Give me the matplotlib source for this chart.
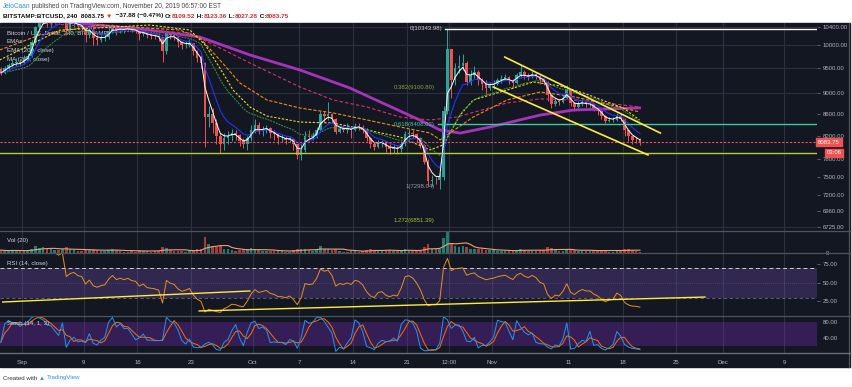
import numpy as np
import pandas as pd
import matplotlib
matplotlib.use('Agg')
import matplotlib.pyplot as plt
from matplotlib.ticker import NullLocator, FixedLocator, FixedFormatter
import matplotlib.transforms as mtransforms

W, H = 853, 387
FONT = ['Liberation Sans', 'DejaVu Sans']
BG = '#131722'
GRID = '#2c3040'
SEP = '#4a4e5a'
TXT = '#b2b5be'
UP = '#26a69a'
DOWN = '#ef5350'

# ---- data: 12h candles from 29 Aug 2019 00:00 (day 0 = 1 Sep) ----
first_open = 9480
closes = [9400, 9500, 9560, 9600, 9620, 9600, 9700, 9760,
          10050, 10380, 10500, 10620, 10520, 10560, 10600, 10570,
          10800, 10320, 10450, 10500, 10420, 10400, 10200, 10320,
          10150, 10100, 10140, 10160, 10300, 10410, 10320, 10360,
          10330, 10360, 10320, 10310, 10230, 10260, 10200, 10190,
          10180, 10160, 9850, 10270, 10200, 10170, 10050, 9980,
          10000, 10030, 9850, 9700, 9600, 8530, 8600, 8430,
          8200, 8060, 8150, 8190, 8250, 8210, 8100, 8050,
          8150, 8300, 8400, 8300, 8320, 8340, 8250, 8220,
          8150, 8150, 8120, 8140, 8050, 7860, 7950, 8200,
          8180, 8190, 8300, 8590, 8550, 8590, 8500, 8260,
          8320, 8300, 8330, 8300, 8380, 8360, 8300, 8160,
          8050, 8000, 8070, 8080, 8000, 7960, 7980, 7960,
          8050, 8230, 8250, 8220, 8150, 8030, 7750, 7430,
          7450, 7440, 7500, 8660, 9900, 9250, 9500, 9550,
          9600, 9220, 9350, 9420, 9250, 9180, 9100, 9150,
          9180, 9250, 9280, 9310, 9250, 9200, 9350, 9410,
          9350, 9320, 9380, 9340, 9250, 9220, 8950, 8790,
          8850, 8820, 8900, 9050, 8800, 8720, 8780, 8820,
          8780, 8780, 8700, 8650, 8550, 8460, 8480, 8490,
          8560, 8510, 8300, 8190, 8130, 8120, 8083.75]
highs = [9520, 9550, 9600, 9680, 9700, 9680, 9780, 9820,
         10100, 10420, 10600, 10790, 10700, 10640, 10680, 10640,
         10920, 10820, 10520, 10580, 10560, 10480, 10420, 10400,
         10380, 10200, 10220, 10250, 10380, 10450, 10440, 10420,
         10400, 10420, 10390, 10360, 10340, 10320, 10280, 10240,
         10250, 10230, 10170, 10330, 10300, 10250, 10180, 10080,
         10080, 10120, 10040, 9880, 9780, 9620, 8750, 8700,
         8500, 8250, 8250, 8280, 8320, 8300, 8230, 8150,
         8200, 8400, 8500, 8450, 8380, 8400, 8350, 8300,
         8250, 8220, 8200, 8190, 8160, 8060, 8050, 8280,
         8300, 8260, 8350, 8650, 8650, 8820, 8620, 8520,
         8380, 8400, 8420, 8380, 8420, 8420, 8400, 8330,
         8180, 8080, 8120, 8130, 8110, 8050, 8050, 8020,
         8100, 8290, 8320, 8300, 8250, 8180, 8050, 7800,
         7520, 7500, 7560, 8750, 10343.98, 9900, 9600, 9780,
         9800, 9650, 9450, 9550, 9450, 9300, 9250, 9220,
         9250, 9300, 9350, 9380, 9330, 9280, 9400, 9560,
         9450, 9400, 9430, 9400, 9360, 9300, 9230, 8980,
         8900, 8880, 8960, 9150, 9060, 8820, 8850, 8880,
         8850, 8830, 8800, 8720, 8670, 8580, 8530, 8540,
         8620, 8600, 8520, 8320, 8200, 8170, 8160]
lows = [9350, 9380, 9460, 9520, 9550, 9550, 9580, 9650,
        9740, 10000, 10330, 10450, 10400, 10380, 10480, 10450,
        10550, 10200, 10300, 10400, 10350, 10300, 10050, 10150,
        10000, 9990, 10050, 10080, 10120, 10250, 10200, 10250,
        10260, 10300, 10270, 10250, 10100, 10180, 10150, 10130,
        10120, 10080, 9620, 9800, 10120, 10100, 9950, 9900,
        9920, 9950, 9780, 9620, 9500, 8000, 8350, 8250,
        8050, 7900, 7950, 8050, 8100, 8120, 8020, 7980,
        7950, 8100, 8250, 8220, 8200, 8250, 8150, 8120,
        8050, 8080, 8060, 8080, 7950, 7800, 7780, 7920,
        8100, 8120, 8150, 8280, 8450, 8480, 8420, 8220,
        8250, 8260, 8250, 8150, 8280, 8300, 8250, 8100,
        7980, 7950, 7980, 8000, 7920, 7880, 7900, 7880,
        7920, 8020, 8180, 8150, 8080, 7980, 7700, 7350,
        7350, 7380, 7300, 7450, 8600, 8900, 9150, 9400,
        9450, 9150, 9150, 9300, 9150, 9050, 8980, 9050,
        9080, 9150, 9200, 9250, 9180, 9100, 9180, 9300,
        9280, 9250, 9300, 9280, 9180, 9150, 8850, 8700,
        8750, 8760, 8800, 8880, 8750, 8650, 8700, 8750,
        8730, 8720, 8650, 8580, 8500, 8420, 8440, 8450,
        8470, 8460, 8200, 8100, 8050, 8070, 8030]
volumes = [4, 3, 3, 4, 3, 3, 3, 4,
           6, 9, 7, 8, 5, 5, 4, 4,
           6, 8, 5, 4, 3, 3, 5, 4,
           5, 4, 3, 3, 4, 5, 4, 3,
           2, 2, 3, 2, 4, 3, 3, 2,
           3, 3, 8, 7, 4, 3, 3, 3,
           2, 3, 4, 5, 5, 22, 12, 9,
           8, 9, 6, 5, 4, 3, 4, 4,
           5, 7, 5, 4, 3, 3, 3, 3,
           3, 3, 2, 2, 4, 6, 5, 6,
           4, 3, 4, 10, 6, 6, 4, 6,
           3, 2, 2, 3, 3, 2, 3, 4,
           5, 4, 3, 3, 4, 4, 3, 3,
           3, 5, 4, 3, 3, 4, 8, 12,
           6, 5, 6, 20, 28, 14, 9, 8,
           9, 8, 6, 5, 5, 5, 4, 4,
           4, 3, 3, 3, 3, 3, 4, 6,
           4, 3, 3, 3, 4, 4, 8, 7,
           4, 3, 3, 5, 5, 4, 3, 3,
           3, 3, 3, 4, 4, 4, 2, 2,
           3, 3, 6, 6, 4, 3, 2]

# slow moving averages (day, price)
purple_days = [-2.9, 7.1, 16.6, 23.1, 29.6, 36.1, 42.6, 47.4, 51.7, 54.3, 56.9, 60.8, 67.3, 71.6, 80.2]
purple_vals = [10660, 10480, 10320, 10165, 9775, 9460, 9095, 8765, 8480, 8300, 8245, 8355, 8575, 8670, 8710]
pink_days = [-2.9, 10.1, 21.8, 29.6, 36.1, 40.4, 44.8, 49.1, 53.0, 56.5, 63.0, 67.3, 71.6, 78.0, 80.2]
pink_vals = [10548, 10380, 10254, 9605, 9116, 8862, 8727, 8539, 8484, 8539, 8805, 8883, 8862, 8767, 8727]
orange_days = [-2.9, 2.3, 10.1, 20.5, 23.1, 25.7, 28.3, 31.8, 36.1, 40.4, 44.8, 49.1, 53.0, 54.3,
               58.6, 63.0, 67.3, 71.8, 76.4, 80.2]
orange_vals = [9881, 10209, 10434, 10321, 10143, 9668, 9196, 8862, 8708, 8615, 8484, 8355, 8246, 8124,
               8539, 8862, 9017, 8920, 8767, 8634]
yellow_days = [-2.9, 1.0, 4.9, 16.6, 21.8, 23.8, 25.7, 27.4, 29.6, 31.8, 36.1, 40.4, 44.8, 49.1,
               53.0, 54.7, 56.9, 58.6, 63.0, 66.4, 69.9, 72.9, 78.1, 80.2]
yellow_vals = [9668, 9989, 10321, 10434, 10321, 9989, 9501, 9057, 8727, 8557, 8446, 8428, 8300, 8175,
               7948, 8035, 8576, 8862, 9057, 9216, 9136, 8998, 8708, 8484]

# drawings
fib_levels = [('0', 10343.98), ('0.382', 9100.80), ('0.618', 8408.02), ('1', 7298.04), ('1.272', 6851.39)]
channel_upper = ([62.7, 82.9], [9730, 8246])
channel_lower = ([61.2, 81.3], [9116, 7862])
support_price = 7890
last_price = 8083.75
rsi_line1 = ([-2.5, 29.6], [24.3, 39.2])
rsi_line2 = ([23.0, 88.7], [12.2, 31.0])

price_ticks = [10400, 10000, 9500, 9000, 8600, 8200, 7800, 7500, 7200, 6960, 6725]
grid_prices = [10400, 10000, 9500, 9000, 6725]
time_ticks = [0, 8, 15, 22, 30, 36, 43, 50, 55.5, 61, 71, 78, 85, 91, 99]
time_labels = ['Sep', '9', '16', '23', 'Oct', '7', '14', '21', '12:00', 'Nov', '11', '18', '25', 'Dec', '9']

# ---- derived series ----
n = len(closes)
days = -3 + 0.5 * np.arange(n) + 0.25
close = pd.Series(closes, dtype=float)
opens = np.r_[first_open, close.values[:-1]]
up = close.values >= opens
ema_fast = close.ewm(span=3, adjust=False).mean()
ema_mid = close.ewm(span=7, adjust=False).mean()
ema_slow = close.ewm(span=17, adjust=False).mean()
vol_ma = pd.Series(volumes, dtype=float).rolling(7, min_periods=1).mean()

delta = close.diff()
gain = delta.clip(lower=0).ewm(alpha=1 / 9, adjust=False).mean()
loss = (-delta.clip(upper=0)).ewm(alpha=1 / 9, adjust=False).mean()
rsi = 100 - 100 / (1 + gain / loss)
lo5 = pd.Series(lows, dtype=float).rolling(5, min_periods=1).min()
hi5 = pd.Series(highs, dtype=float).rolling(5, min_periods=1).max()
stoch_k = 100 * (close - lo5) / (hi5 - lo5)
stoch_d = stoch_k.rolling(3, min_periods=1).mean()

# ---- figure ----
fig = plt.figure(figsize=(W / 100, H / 100), dpi=100)
fig.patch.set_facecolor('white')
fig.add_artist(plt.Rectangle((0, 1 - 367 / H), 850 / W, (367 - 23) / H,
                             transform=fig.transFigure, color=BG, zorder=0))


def rect(x0, y0, x1, y1):
    return [x0 / W, 1 - y1 / H, (x1 - x0) / W, (y1 - y0) / H]


def hline_px(y, x0=0, x1=850, color=SEP, lw=0.9):
    fig.add_artist(plt.Line2D([x0 / W, x1 / W], [1 - y / H, 1 - y / H],
                              transform=fig.transFigure, color=color, lw=lw, zorder=5))


XMIN, XMAX = (0 - 22) / 7.7, (817 - 22) / 7.7

ax = fig.add_axes(rect(0, 23, 817, 231))
axv = fig.add_axes(rect(0, 231, 817, 253), sharex=ax)
axr = fig.add_axes(rect(0, 253, 817, 316), sharex=ax)
axs = fig.add_axes(rect(0, 316, 817, 353), sharex=ax)

for a in (ax, axv, axr, axs):
    a.set_facecolor(BG)
    a.patch.set_alpha(0)
    for sp in a.spines.values():
        sp.set_visible(False)
    a.set_xlim(XMIN, XMAX)
    a.xaxis.set_major_locator(FixedLocator(time_ticks))
    for t in time_ticks:
        a.axvline(t, color=GRID, lw=0.8, zorder=0)
    a.tick_params(axis='x', which='both', length=0, labelbottom=False)
    a.yaxis.tick_right()
    a.tick_params(axis='y', colors='#6a6d78', labelcolor=TXT, labelsize=4.3, length=2.5, width=0.6, pad=1.5)

# price pane
ax.set_yscale('log')
ax.set_ylim(6661, 10480)
ax.yaxis.set_minor_locator(NullLocator())
ax.yaxis.set_major_locator(FixedLocator(price_ticks))
ax.yaxis.set_major_formatter(FixedFormatter(['%.2f' % p for p in price_ticks]))
for p in grid_prices:
    ax.axhline(p, color=GRID, lw=0.8, zorder=0)

ax.vlines(days, lows, highs, colors=np.where(up, UP, DOWN), lw=0.7, zorder=3)
ax.bar(days, np.abs(close.values - opens), bottom=np.minimum(close.values, opens),
       width=0.34, color=np.where(up, UP, DOWN), zorder=3)

ax.plot(purple_days, purple_vals, color='#a733bd', lw=2.0, zorder=4)
ax.plot(pink_days, pink_vals, color='#d9306e', lw=0.8, ls=(0, (3, 2)), zorder=4)
ax.plot(orange_days, orange_vals, color='#f08a10', lw=0.8, ls=(0, (3, 1.5)), zorder=4)
ax.plot(yellow_days, yellow_vals, color='#e8e020', lw=0.8, ls=(0, (2, 1.5)), zorder=4)
ax.plot(days, ema_slow, color='#3a9a3a', lw=0.7, ls=(0, (2, 1)), zorder=4)
ax.plot(days, ema_mid, color='#2233ff', lw=0.8, zorder=4)
ax.plot(days, ema_fast, color='white', lw=0.7, zorder=4)

# horizontal levels and channel
ax.axhline(last_price, color=DOWN, lw=0.8, ls=(0, (2, 1.5)), zorder=5)
ax.axhline(support_price, color='#b2cf2f', lw=1.0, zorder=5)
ax.plot([55.0, XMAX], [10343.98, 10343.98], color='white', lw=1.0, zorder=5)
ax.plot([54.0, XMAX], [8408.02, 8408.02], color='#3ec99a', lw=1.0, zorder=5)
ax.plot(*channel_upper, color='#ffeb3b', lw=1.2, zorder=6)
ax.plot(*channel_lower, color='#ffeb3b', lw=1.2, zorder=6)

fib_style = {'0': ('#d0d0d0', 'center', 54.6), '0.382': ('#8aa33a', 'center', 53.6),
             '0.618': ('#3ec99a', 'center', 53.6), '1': ('#9a9ca4', 'bottom', 53.6),
             '1.272': ('#9fc030', 'top', 53.6)}
for name, lvl in fib_levels:
    c, va, xd = fib_style[name]
    ax.text(xd, lvl, '%s(%.2f)' % (name, lvl), color=c, fontsize=4.3, ha='right', va=va,
            family=FONT, zorder=7)

leg = ['Bitcoin / U.S. Dollar, 240, BITSTAMP', 'EMAs', 'EMA (200, close)', 'MA (200, close)']
for i, s in enumerate(leg):
    ax.text(7 / 817, 1 - (10 + 8.7 * i) / 208, s, transform=ax.transAxes, color='#d1d4dc',
            fontsize=4.4, ha='left', va='center', family=FONT, zorder=2)

tr = mtransforms.blended_transform_factory(ax.transAxes, ax.transData)
ax.text(1.0015, last_price, '8083.75', transform=tr, color='white', fontsize=4.3, ha='left', va='center',
        family=FONT, zorder=9, clip_on=False,
        bbox=dict(boxstyle='square,pad=0.3', fc=DOWN, ec=DOWN))
ax.annotate('03:06', (1.012, last_price), xycoords=tr, xytext=(0, -7.5), textcoords='offset points',
            color='white', fontsize=4.3, ha='left', va='center', family=FONT, zorder=9,
            annotation_clip=False, bbox=dict(boxstyle='square,pad=0.25', fc=DOWN, ec=DOWN))

# volume pane
axv.set_ylim(0, 30)
axv.bar(days, volumes, width=0.34, color=np.where(up, '#1e7d6f', '#a63c3a'), zorder=3)
axv.plot(days, vol_ma, color='#f0a070', lw=0.8, zorder=4)
axv.yaxis.set_major_locator(FixedLocator([0.6]))
axv.yaxis.set_major_formatter(FixedFormatter(['0']))
axv.tick_params(axis='y', length=0, pad=6)
axv.text(7 / 817, 0.55, 'Vol (20)', transform=axv.transAxes, color='#d1d4dc', fontsize=4.4,
         va='center', family=FONT)

# RSI pane
axr.set_ylim(5.4, 90.5)
axr.axhspan(30, 70, color='#7e57c2', alpha=0.28, lw=0, zorder=1)
axr.axhline(70, color='#d0d0d0', lw=0.7, ls=(0, (4, 3)), zorder=2)
axr.axhline(30, color='#6a6d78', lw=0.6, ls=(0, (4, 3)), zorder=2)
axr.axhline(50, color='#6b4fa0', lw=0.5, ls=(0, (1, 2)), zorder=2)
axr.plot(days, rsi, color='#e8901c', lw=0.7, zorder=4)
axr.plot(*rsi_line1, color='#ffeb3b', lw=1.0, zorder=5)
axr.plot(*rsi_line2, color='#ffeb3b', lw=1.0, zorder=5)
axr.yaxis.set_major_locator(FixedLocator([75, 50, 25]))
axr.yaxis.set_major_formatter(FixedFormatter(['75.00', '50.00', '25.00']))
axr.text(7 / 817, 1 - 10 / 63, 'RSI (14, close)', transform=axr.transAxes, color='#d1d4dc',
         fontsize=4.4, va='center', family=FONT, zorder=8)

# Stoch pane
axs.set_ylim(2.5, 95)
axs.axhspan(20, 80, color='#7e2fc2', alpha=0.32, lw=0, zorder=1)
axs.plot(days, stoch_d, color='#ff6d00', lw=0.7, zorder=4)
axs.plot(days, stoch_k, color='#2196f3', lw=0.7, zorder=4)
axs.yaxis.set_major_locator(FixedLocator([80, 40]))
axs.yaxis.set_major_formatter(FixedFormatter(['80.00', '40.00']))
axs.tick_params(axis='y', length=0, pad=4)
axs.text(7 / 817, 1 - 8 / 37, 'Stoch (14, 1, 3)', transform=axs.transAxes, color='#d1d4dc',
         fontsize=4.4, va='center', family=FONT, zorder=8)
axs.xaxis.set_major_formatter(FixedFormatter(time_labels))
axs.tick_params(axis='x', labelbottom=True, labelsize=4.4, labelcolor=TXT, length=0, pad=5)

for a in (ax, axv, axr, axs):
    for lab in a.get_yticklabels() + a.get_xticklabels():
        lab.set_family(FONT)

# separators
for y in (231, 253, 316):
    hline_px(y, color='#50535e', lw=0.9)
hline_px(353, color='#6a6d78', lw=1.0)
fig.add_artist(plt.Line2D([849.5 / W] * 2, [1 - 367 / H, 1 - 23 / H], transform=fig.transFigure,
                          color='#50535e', lw=0.9))

# header text
renderer = fig.canvas.get_renderer()


def text_run(x_px, y_px, parts, size, weight='normal'):
    x = x_px
    for s, c in parts:
        t = fig.text(x / W, 1 - y_px / H, s, color=c, fontsize=size, fontweight=weight,
                     ha='left', va='center', family=FONT)
        x += t.get_window_extent(renderer=renderer).width


RED = '#d32f2f'
text_run(3, 6, [('JeloCaan', '#2196f3'),
                (' published on TradingView.com, November 20, 2019 06:57:00 EST', '#444444')], 4.7)
text_run(3, 16, [('BITSTAMP:BTCUSD, 240  8083.75 ', '#111111'), ('\u25bc', RED),
                 ('  \u221237.88 (\u22120.47%) ', '#111111'), ('O:', '#111111'), ('8109.52', RED),
                 (' H:', '#111111'), ('8123.36', RED), (' L:', '#111111'), ('8027.28', RED),
                 (' C:', '#111111'), ('8083.75', RED)], 4.6, 'bold')
text_run(3, 378, [('Created with ', '#333333'), ('\u25b2 ', '#2196f3'), ('TradingView', '#2196f3')], 4.4)

fig.savefig('out.png', dpi=100, facecolor='white')
